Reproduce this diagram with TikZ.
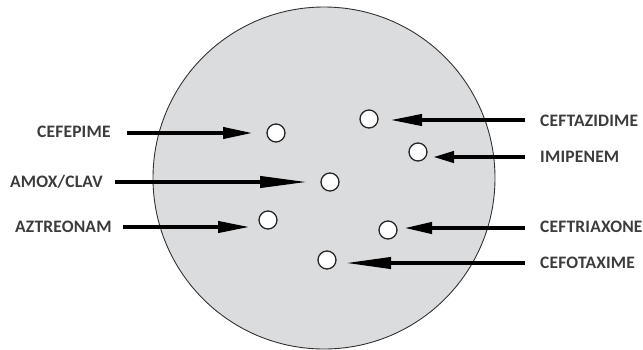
\documentclass[tikz,border=0pt]{standalone}
\usepackage{fontspec}
\newfontfamily\labfont{Carlito}[LetterSpace=1]
\usetikzlibrary{arrows.meta}
\definecolor{plate}{RGB}{219,220,222}
\definecolor{labgray}{RGB}{60,60,60}
\tikzset{
  lab/.style={inner sep=0pt, font=\labfont\fontsize{17.5}{19}\selectfont\bfseries, text=labgray},
  disk/.style={circle, draw=black!85, line width=1.3pt, fill=white, minimum size=18pt, inner sep=0pt},
  arr/.style={line width=4pt, -{Triangle[length=#1, width=11pt]}},
  arr/.default=30pt
}
\begin{document}
\begin{tikzpicture}[x=1pt,y=-1pt]
\useasboundingbox (0,0) rectangle (643,349);
\node[circle, draw=black!80, line width=0.9pt, fill=plate, minimum size=342pt, inner sep=0pt] (plate) at (324,178) {};
% disks
\node[disk] (dCefepime) at (276,133) {};
\node[disk] (dAmox) at (330,182) {};
\node[disk] (dAztreonam) at (268,220) {};
\node[disk] (dCeftazidime) at (369,119) {};
\node[disk] (dImipenem) at (418,152) {};
\node[disk] (dCeftriaxone) at (388,230) {};
\node[disk] (dCefotaxime) at (327,260) {};
% labels
\node[lab, anchor=west] (lCefepime) at (37,132) {CEFEPIME};
\node[lab, anchor=west] (lAmox) at (10,182) {AMOX/CLAV};
\node[lab, anchor=west] (lAztreonam) at (15,227) {AZTREONAM};
\node[lab, anchor=west] (lCeftazidime) at (540,121) {CEFTAZIDIME};
\node[lab, anchor=west] (lImipenem) at (540,157) {IMIPENEM};
\node[lab, anchor=west] (lCeftriaxone) at (540,227) {CEFTRIAXONE};
\node[lab, anchor=west] (lCefotaxime) at (540,263) {CEFOTAXIME};
% arrow tails
\coordinate (tCefepime) at (127,133);
\coordinate (tAmox) at (115,182);
\coordinate (tAztreonam) at (123,227);
\coordinate (tCeftazidime) at (525,120);
\coordinate (tImipenem) at (525,157);
\coordinate (tCeftriaxone) at (525,228);
\coordinate (tCefotaxime) at (525,263);
% arrows
\draw[arr=30pt, shorten >=23pt] (tCefepime) -- (tCefepime -| dCefepime);
\draw[arr=48pt, shorten >=22pt] (tAmox) -- (tAmox -| dAmox);
\draw[arr=32pt, shorten >=18pt] (tAztreonam) -- (tAztreonam -| dAztreonam);
\draw[arr=32pt, shorten >=21pt] (tCeftazidime) -- (tCeftazidime -| dCeftazidime);
\draw[arr=21pt, shorten >=15pt] (tImipenem) -- (tImipenem -| dImipenem);
\draw[arr=28pt, shorten >=16pt] (tCeftriaxone) -- (tCeftriaxone -| dCeftriaxone);
\draw[arr=46pt, shorten >=18pt] (tCefotaxime) -- (tCefotaxime -| dCefotaxime);
\end{tikzpicture}
\end{document}
